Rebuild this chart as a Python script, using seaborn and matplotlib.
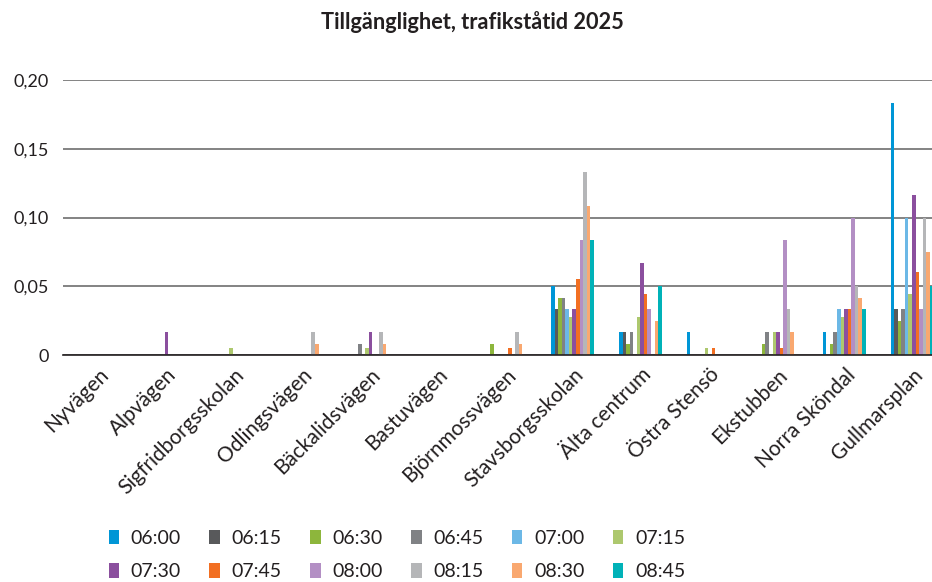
import matplotlib
matplotlib.use("Agg")
import matplotlib.pyplot as plt
from matplotlib.ticker import FixedLocator, FuncFormatter
from matplotlib.patches import Patch
from matplotlib.transforms import ScaledTranslation
import seaborn as sns
import pandas as pd

# Stops along the route
categories = ["Nyvägen", "Alpvägen", "Sigfridborgsskolan", "Odlingsvägen",
              "Bäckalidsvägen", "Bastuvägen", "Björnmossvägen", "Stavsborgsskolan",
              "Älta centrum", "Östra Stensö", "Ekstubben", "Norra Sköndal",
              "Gullmarsplan"]

# Departure times (series)
times = ["06:00", "06:15", "06:30", "06:45", "07:00", "07:15",
         "07:30", "07:45", "08:00", "08:15", "08:30", "08:45"]

# Accessibility value per stop, one list per departure time
v0600 = [0, 0, 0, 0, 0, 0, 0, 0.050, 0.0167, 0.0167, 0, 0.0167, 0.183]
v0615 = [0, 0, 0, 0, 0, 0, 0, 0.0333, 0.0167, 0, 0, 0, 0.0333]
v0630 = [0, 0, 0, 0, 0, 0, 0.0083, 0.0417, 0.0083, 0, 0.0083, 0.0083, 0.025]
v0645 = [0, 0, 0, 0, 0.0083, 0, 0, 0.0417, 0.0167, 0, 0.0167, 0.0167, 0.0333]
v0700 = [0, 0, 0, 0, 0, 0, 0, 0.0333, 0, 0, 0, 0.0333, 0.100]
v0715 = [0, 0, 0.005, 0, 0.005, 0, 0, 0.0278, 0.0278, 0.005, 0.0167, 0.0278, 0.0444]
v0730 = [0, 0.0167, 0, 0, 0.0167, 0, 0, 0.0333, 0.0667, 0, 0.0167, 0.0333, 0.1167]
v0745 = [0, 0, 0, 0, 0, 0, 0.005, 0.0556, 0.0444, 0.005, 0.005, 0.0333, 0.0606]
v0800 = [0, 0, 0, 0, 0, 0, 0, 0.0833, 0.0333, 0, 0.0833, 0.100, 0.0333]
v0815 = [0, 0, 0, 0.0167, 0.0167, 0, 0.0167, 0.1333, 0, 0, 0.0333, 0.050, 0.100]
v0830 = [0, 0, 0, 0.0083, 0.0083, 0, 0.0083, 0.1083, 0.025, 0, 0.0167, 0.0417, 0.075]
v0845 = [0, 0, 0, 0, 0, 0, 0, 0.0833, 0.050, 0, 0, 0.0333, 0.050]

series = [v0600, v0615, v0630, v0645, v0700, v0715,
          v0730, v0745, v0800, v0815, v0830, v0845]

colors = ["#0096D6", "#58595B", "#8DB63C", "#808285", "#6CB8E6", "#ADC86E",
          "#8B4F9E", "#F26F22", "#B38FC4", "#B5B6B8", "#F9A870", "#00B2B8"]

ytick_values = [0, 0.05, 0.10, 0.15, 0.20]

rows = []
for t, vals in zip(times, series):
    for c, v in zip(categories, vals):
        rows.append({"Hållplats": c, "Tid": t, "Värde": v})
df = pd.DataFrame(rows)

sns.set_theme(style="white")
plt.rcParams["font.family"] = ["Lato", "DejaVu Sans"]
plt.rcParams["text.color"] = "#231F20"

fig = plt.figure(figsize=(9.32, 5.82), dpi=100)
ax = fig.add_axes([63 / 932, 1 - 355 / 582, 883 / 932, 275 / 582])

sns.barplot(data=df, x="Hållplats", y="Värde", hue="Tid", order=categories,
            hue_order=times, palette=colors, saturation=1, width=0.63,
            gap=0, dodge=True, errorbar=None, linewidth=0, ax=ax, legend=False)

ax.set_ylim(0, 0.2)
ax.set_xlim(-0.5, len(categories) - 0.5)
ax.yaxis.set_major_locator(FixedLocator(ytick_values))
ax.yaxis.set_major_formatter(
    FuncFormatter(lambda v, p: "0" if v == 0 else f"{v:.2f}".replace(".", ",")))
ax.grid(axis="y", color="#7a7a7a", linewidth=1.3)
ax.set_axisbelow(True)
for side in ["top", "right", "left"]:
    ax.spines[side].set_visible(False)
ax.spines["bottom"].set_color("#231F20")
ax.spines["bottom"].set_linewidth(1.2)

ax.tick_params(axis="y", length=0, pad=10, labelsize=13, labelcolor="#231F20")
ax.tick_params(axis="x", length=0, pad=7, labelsize=15, labelcolor="#231F20")
ax.set_xticks(range(len(categories)))
ax.set_xticklabels(categories, rotation=45, ha="right", rotation_mode="anchor")
shift = ScaledTranslation(1 / 100, 0, fig.dpi_scale_trans)
for lbl in ax.get_xticklabels():
    lbl.set_transform(lbl.get_transform() + shift)
ax.set_xticks([i - 0.5 for i in range(len(categories) + 1)], minor=True)
ax.tick_params(axis="x", which="minor", direction="in", length=6,
               width=1, color="#333333")
ax.set_xlabel("")
ax.set_ylabel("")

# Legend laid out row by row: 06:00..07:15 on top, 07:30..08:45 below
handles = [Patch(facecolor=c, edgecolor="none") for c in colors]
order = []
for col in range(6):
    order += [col, col + 6]
fig.legend([handles[i] for i in order], [times[i] for i in order], ncol=6,
           loc="upper left", bbox_to_anchor=(91 / 932, 1 - 512 / 582),
           frameon=False, fontsize=14, handlelength=0.55, handleheight=0.75,
           handletextpad=0.6, columnspacing=1.45, labelspacing=0.86)

fig.text(472 / 932, 1 - 22 / 582, "Tillgänglighet, trafikståtid 2025",
         ha="center", va="center", fontsize=15.7, fontweight="bold",
         color="#231F20")

fig.savefig("out.png", dpi=100)
